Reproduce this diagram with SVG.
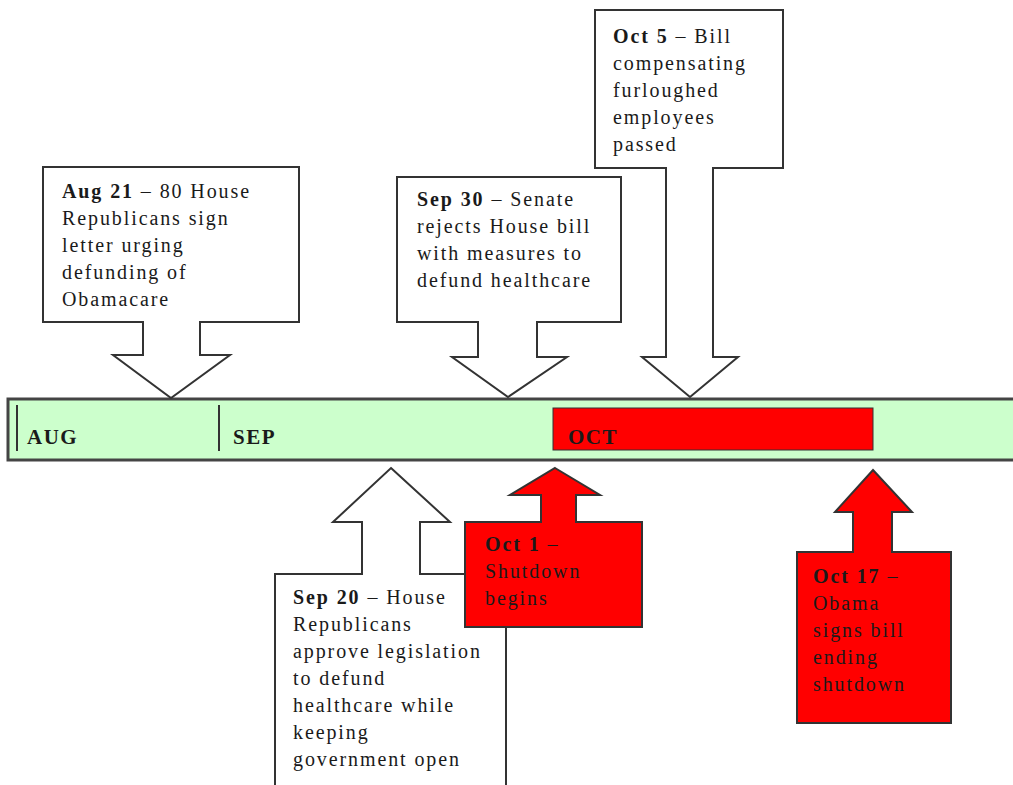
<svg xmlns="http://www.w3.org/2000/svg" width="1013" height="785" viewBox="0 0 1013 785">
<style>
.bg{fill:#ffffff}
.call{fill:#ffffff;stroke:#333333;stroke-width:2;stroke-linejoin:miter}
.callr{fill:#ff0000;stroke:#333333;stroke-width:2;stroke-linejoin:miter}
.t{font-family:"Liberation Serif","Times New Roman",serif;font-size:20px;fill:#1a1a1a;letter-spacing:1.9px}
.b{font-weight:bold}
.m{font-family:"Liberation Serif","Times New Roman",serif;font-size:21px;font-weight:bold;fill:#1a1a1a;letter-spacing:1.5px}
.bar{fill:#ccffcc;stroke:#444444;stroke-width:3}
.oct{fill:#ff0000;stroke:#333333;stroke-width:1}
.div{stroke:#333333;stroke-width:2}
</style>
<rect class="bg" x="0" y="0" width="1013" height="785"/>
<g id="timeline">
  <rect class="bar" x="8" y="399" width="1010" height="61"/>
  <rect class="oct" x="553" y="408" width="320" height="42"/>
  <line class="div" x1="17" y1="405" x2="17" y2="451"/>
  <line class="div" x1="219" y1="405" x2="219" y2="451"/>
  <text class="m" x="27" y="444">AUG</text>
  <text class="m" x="233" y="444">SEP</text>
  <text class="m" x="568" y="444">OCT</text>
</g>
<g id="connectors"></g>
<g id="aug21">
  <polygon class="call" points="43,167 299,167 299,322 200,322 200,355 230,355 171,398 113,355 143,355 143,322 43,322"/>
  <text class="t" x="62" y="198"><tspan class="b">Aug 21</tspan> – 80 House</text>
  <text class="t" x="62" y="225">Republicans sign</text>
  <text class="t" x="62" y="252">letter urging</text>
  <text class="t" x="62" y="279">defunding of</text>
  <text class="t" x="62" y="306">Obamacare</text>
</g>
<g id="sep30">
  <polygon class="call" points="397,177 621,177 621,322 537,322 537,357 567,357 508,397 452,357 478,357 478,322 397,322"/>
  <text class="t" x="417" y="206"><tspan class="b">Sep 30</tspan> – Senate</text>
  <text class="t" x="417" y="233">rejects House bill</text>
  <text class="t" x="417" y="260">with measures to</text>
  <text class="t" x="417" y="287">defund healthcare</text>
</g>
<g id="oct5">
  <polygon class="call" points="595,10 783,10 783,168 713,168 713,357 738,357 690,397 642,357 666,357 666,168 595,168"/>
  <text class="t" x="613" y="43"><tspan class="b">Oct 5</tspan> – Bill</text>
  <text class="t" x="613" y="70">compensating</text>
  <text class="t" x="613" y="97">furloughed</text>
  <text class="t" x="613" y="124">employees</text>
  <text class="t" x="613" y="151">passed</text>
</g>
<g id="sep20">
  <polygon class="call" points="391,468 450,522 420,522 420,574 506,574 506,792 275,792 275,574 362,574 362,522 333,522"/>
  <text class="t" x="293" y="604"><tspan class="b">Sep 20</tspan> – House</text>
  <text class="t" x="293" y="631">Republicans</text>
  <text class="t" x="293" y="658">approve legislation</text>
  <text class="t" x="293" y="685">to defund</text>
  <text class="t" x="293" y="712">healthcare while</text>
  <text class="t" x="293" y="739">keeping</text>
  <text class="t" x="293" y="766">government open</text>
</g>
<g id="oct1">
  <polygon class="callr" points="555,468 600,495 576,495 576,522 642,522 642,627 465,627 465,522 541,522 541,495 510,495"/>
  <text class="t" x="485" y="551"><tspan class="b">Oct 1</tspan> –</text>
  <text class="t" x="485" y="578">Shutdown</text>
  <text class="t" x="485" y="605">begins</text>
</g>
<g id="oct17">
  <polygon class="callr" points="873,470 912,512 892,512 892,552 951,552 951,723 797,723 797,552 853,552 853,512 835,512"/>
  <text class="t" x="813" y="583"><tspan class="b">Oct 17</tspan> –</text>
  <text class="t" x="813" y="610">Obama</text>
  <text class="t" x="813" y="637">signs bill</text>
  <text class="t" x="813" y="664">ending</text>
  <text class="t" x="813" y="691">shutdown</text>
</g>
</svg>
